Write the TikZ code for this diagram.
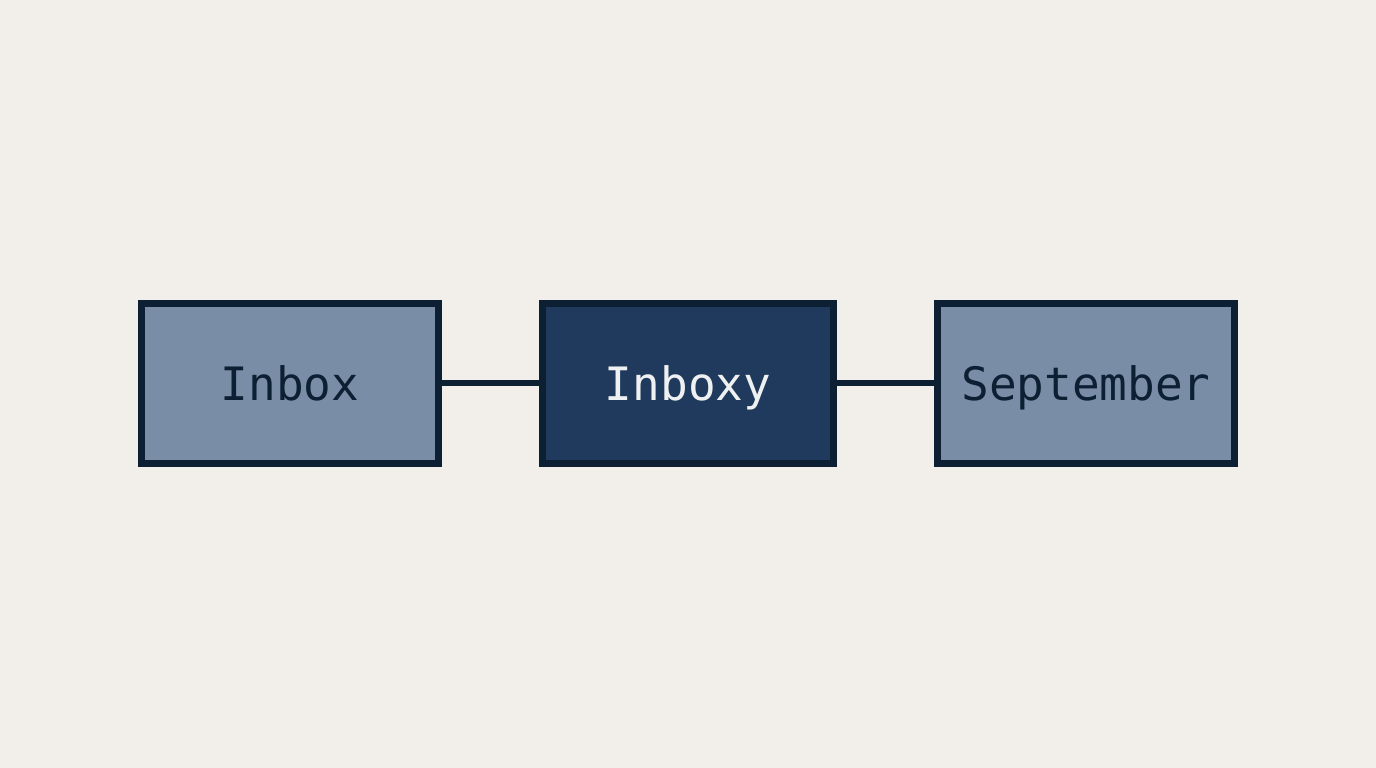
\documentclass[tikz,border=0pt]{standalone}
\usepackage{fontspec}
\newfontfamily\monofont{DejaVu Sans Mono}
\definecolor{bg}{HTML}{F2EFEA}
\definecolor{edge}{HTML}{0D1F33}
\definecolor{lightfill}{HTML}{7A8DA6}
\definecolor{darkfill}{HTML}{1F3A5C}
\definecolor{lighttext}{HTML}{EEF0F2}
\tikzset{
  box/.style={draw=edge, line width=7pt, inner sep=0pt, minimum height=160pt,
    text height=34pt, text depth=0pt,
    font=\monofont\fontsize{46}{50}\selectfont},
  lightbox/.style={box, fill=lightfill, text=edge},
  darkbox/.style={box, fill=darkfill, text=lighttext},
  link/.style={draw=edge, line width=6pt}
}
\begin{document}
\begin{tikzpicture}[x=1pt,y=1pt]
\fill[bg] (0,0) rectangle (1376,768);
\useasboundingbox (0,0) rectangle (1376,768);
\node[lightbox, minimum width=297pt] (a) at (290,384.5) {Inbox};
\node[darkbox, minimum width=291pt] (b) at (688,384.5) {Inboxy};
\node[lightbox, minimum width=297pt] (c) at (1086,384.5) {September};
\draw[link] (a.east) -- (b.west);
\draw[link] (b.east) -- (c.west);
\end{tikzpicture}
\end{document}
